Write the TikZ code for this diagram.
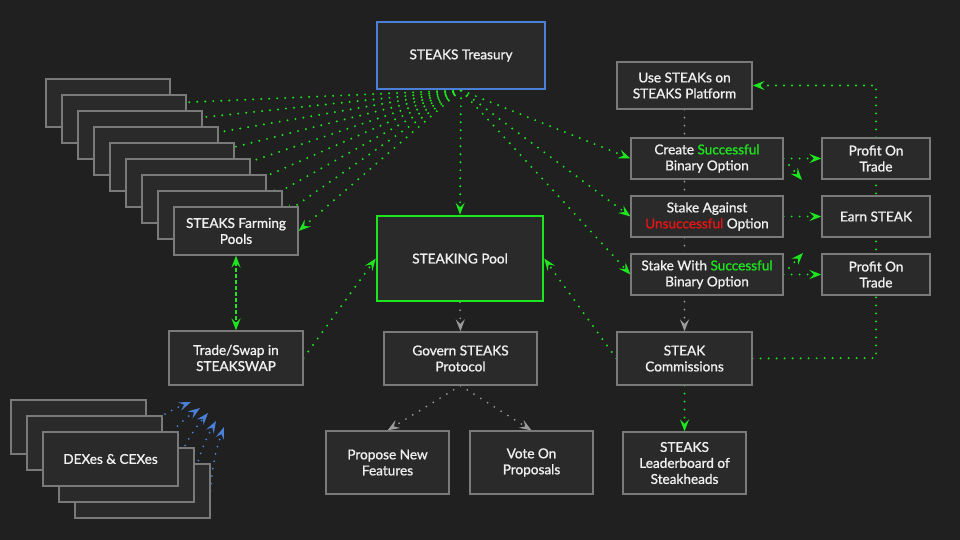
\documentclass[tikz,border=0pt]{standalone}
\usepackage{fontspec}
\setmainfont{Lato}[FakeBold=1.1]
\usetikzlibrary{arrows.meta,calc}
\pgfdeclarelayer{bg}
\pgfsetlayers{bg,main}
\definecolor{bgc}{HTML}{202020}
\definecolor{boxfill}{HTML}{2A2A2A}
\definecolor{boxline}{HTML}{7A7A7A}
\definecolor{txt}{HTML}{F0F0F0}
\definecolor{sgreen}{HTML}{1EE61E}
\definecolor{sred}{HTML}{E81414}
\definecolor{sblue}{HTML}{4A80D8}
\definecolor{sgray}{HTML}{9A9A9A}
\begin{document}
\begin{tikzpicture}[x=1pt,y=1pt,
  >={Stealth[length=12pt,width=9pt,inset=4.5pt]},
  box/.style={draw=boxline, fill=boxfill, line width=1.2pt, text=txt,
    font=\fontsize{13.6}{16}\selectfont, align=center, inner sep=0pt},
  gdot/.style={draw=sgreen, line width=2.2pt, line cap=round, dash pattern=on 0pt off 8pt},
  graydot/.style={draw=sgray, line width=1.9pt, line cap=round, dash pattern=on 0pt off 8pt},
  bdot/.style={draw=sblue, line width=2pt, line cap=round, dash pattern=on 0pt off 7.5pt,
    -{Stealth[length=12pt,width=8.5pt,inset=4.5pt]}},
  gdash/.style={draw=sgreen, line width=2.2pt, dash pattern=on 3.5pt off 2.5pt}
]
\begin{pgfonlayer}{bg}
\fill[bgc] (0,0) rectangle (960,-540);
\end{pgfonlayer}
\useasboundingbox (0,0) rectangle (960,-540);

% farming pool stack
\foreach \i in {1,...,8} {
  \node[box, minimum width=124pt, minimum height=48pt] (fp\i) at ({108+16*(\i-1)},{-(103+16*(\i-1))}) {};
}
\node[box, minimum width=124pt, minimum height=48pt] (farm) at (236,-231) {STEAKS Farming\\Pools};

% DEX stack
\node[box, minimum width=135pt, minimum height=54pt] (dx1) at (78.5,-427) {};
\node[box, minimum width=135pt, minimum height=54pt] (dx2) at (94.5,-443) {};
\node[box, minimum width=135pt, minimum height=54pt] (dx5) at (142.5,-491) {};
\node[box, minimum width=135pt, minimum height=54pt] (dx4) at (126.5,-475) {};
\node[box, minimum width=135pt, minimum height=54pt] (dex) at (110.5,-459) {DEXes \& CEXes};

% main nodes
\node[box, draw=sblue, line width=2.5pt, minimum width=168pt, minimum height=67pt] (treas) at (461,-55.5) {STEAKS Treasury};
\node[box, draw=sgreen, line width=2.5pt, minimum width=166pt, minimum height=85pt] (pool) at (460,-258.5) {STEAKING Pool};
\node[box, minimum width=134pt, minimum height=54pt] (trade) at (236,-358) {Trade/Swap in\\STEAKSWAP};
\node[box, minimum width=153pt, minimum height=53pt] (gov) at (460.5,-358.5) {Govern STEAKS\\Protocol};
\node[box, minimum width=123pt, minimum height=63pt] (prop) at (387.5,-462.5) {Propose New\\Features};
\node[box, minimum width=123pt, minimum height=63pt] (vote) at (531.5,-462.5) {Vote On\\Proposals};

\node[box, minimum width=135pt, minimum height=47pt] (use) at (684.5,-85.5) {Use STEAKs on\\STEAKS Platform};
\node[box, minimum width=152pt, minimum height=41pt] (create) at (707,-158.5) {Create \textcolor{sgreen}{Successful}\\Binary Option};
\node[box, minimum width=152pt, minimum height=41pt] (against) at (707,-216.5) {Stake Against\\\textcolor{sred}{Unsuccessful} Option};
\node[box, minimum width=152pt, minimum height=41pt] (with) at (707,-274.5) {Stake With \textcolor{sgreen}{Successful}\\Binary Option};
\node[box, minimum width=108pt, minimum height=41pt] (prof1) at (876,-158.5) {Profit On\\Trade};
\node[box, minimum width=108pt, minimum height=41pt] (earn) at (876,-216.5) {Earn STEAK};
\node[box, minimum width=108pt, minimum height=41pt] (prof2) at (876,-274.5) {Profit On\\Trade};
\node[box, minimum width=135pt, minimum height=53pt] (comm) at (684.5,-358.5) {STEAK\\Commissions};
\node[box, minimum width=123pt, minimum height=62pt] (lead) at (684.5,-463) {STEAKS\\Leaderboard of\\Steakheads};

\coordinate (cA) at (876,-358);
\coordinate (cB) at (876,-85.5);
\coordinate (s1) at (789,-165);
\coordinate (e1) at (802,-180);
\coordinate (s2) at (789,-268);
\coordinate (e2) at (803,-253);
\coordinate (b1) at (191,-402);
\coordinate (b2) at (200,-408);
\coordinate (b3) at (208,-413);
\coordinate (b4) at (216,-421);
\coordinate (b5) at (224,-427);

\begin{pgfonlayer}{bg}
% treasury fan
\foreach \i in {1,...,8} {
  \draw[gdot,->] (treas.south) -- (fp\i.east);
}
\draw[gdot,->] (treas.south) -- (farm.east);
\draw[gdot,->] (treas.south) -- (pool.north);
\draw[gdot,->] (treas.south) -- (create.west);
\draw[gdot,->] (treas.south) -- (against.west);
\draw[gdot,->] (treas.south) -- (with.west);
% right side
\draw[graydot,->] (use.south) -- (comm.north);
\draw[gdot,->] (create.east) -- (prof1.west);
\draw[gdot,->] (against.east) -- (earn.west);
\draw[gdot,->] (with.east) -- (prof2.west);
\draw[gdot,->] (s1) -- (e1);
\draw[gdot,->] (s2) -- (e2);
\draw[gdot,->] (comm.east) -- (cA) -- (cB) -- (use.east);
\draw[gdot,->] (comm.south) -- (lead.north);
\draw[gdot,->] (comm.west) -- (pool.east);
% left side
\draw[gdash,{Stealth[length=12pt,width=9pt,inset=4.5pt]}-{Stealth[length=12pt,width=9pt,inset=4.5pt]}] (farm.south) -- (trade.north);
\draw[gdot,->] (trade.east) -- (pool.west);
% governance
\draw[graydot,->] (pool.south) -- (gov.north);
\draw[graydot,->] (gov.south) -- (prop.north);
\draw[graydot,->] (gov.south) -- (vote.north);
% dex arrows
\draw[bdot] (dx1.east) to[bend left=8] (b1);
\draw[bdot] (dx2.east) to[bend left=8] (b2);
\draw[bdot] (dex.east) to[bend left=8] (b3);
\draw[bdot] (dx4.east) to[bend left=8] (b4);
\draw[bdot] (dx5.east) to[bend left=8] (b5);
\end{pgfonlayer}
\end{tikzpicture}
\end{document}
